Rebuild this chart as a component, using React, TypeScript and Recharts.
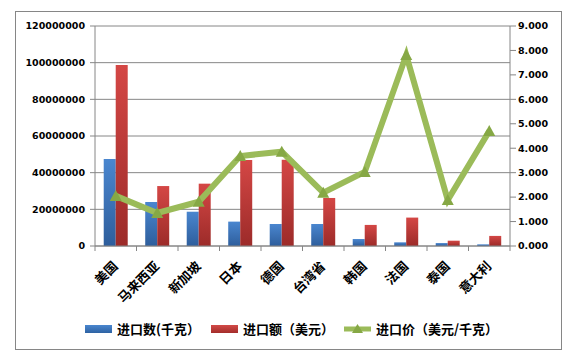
import React from 'react';
import { ComposedChart, Bar, Line, XAxis, YAxis, CartesianGrid, Legend } from 'recharts';

const categories = ['美国', '马来西亚', '新加坡', '日本', '德国', '台湾省', '韩国', '法国', '泰国', '意大利'];
const importQty = [47500000, 24000000, 18700000, 13300000, 12000000, 12000000, 3800000, 2000000, 1600000, 900000];
const importValue = [98700000, 32700000, 34000000, 46900000, 47000000, 26200000, 11500000, 15500000, 2900000, 5500000];
const importPrice = [2.05, 1.35, 1.81, 3.68, 3.86, 2.18, 3.03, 7.81, 1.88, 4.7];
const leftTicks = [0, 20000000, 40000000, 60000000, 80000000, 100000000, 120000000];
const rightTicks = [0, 1, 2, 3, 4, 5, 6, 7, 8, 9];
const seriesNames = ['进口数(千克）', '进口额（美元）', '进口价（美元/千克）'];

const data = categories.map((c, i) => ({
  name: c,
  qty: importQty[i],
  value: importValue[i],
  price: importPrice[i],
}));

const GRAY = '#868686';
const W = 568;
const H = 357;
const PLOT_LEFT = 95;
const PLOT_RIGHT = 510;
const HALF_BAND = (PLOT_RIGHT - PLOT_LEFT) / categories.length / 2;

const axisFont = { fontFamily: 'DejaVu Sans', fontWeight: 'bold', fontSize: 9.5, fill: '#000' };

const XTick = (props: any) => {
  const { x, y, payload, index } = props;
  const last = index === categories.length - 1;
  return (
    <g>
      <line x1={x - HALF_BAND} y1={y} x2={x - HALF_BAND} y2={y + 5} stroke={GRAY} />
      {last && <line x1={x + HALF_BAND} y1={y} x2={x + HALF_BAND} y2={y + 5} stroke={GRAY} />}
      <g transform={`translate(${x + 3}, ${y + 21})`}>
        <text
          x={0}
          y={0}
          transform="rotate(-45)"
          textAnchor="end"
          style={{ fontFamily: '"Noto Sans CJK SC"', fontWeight: 'bold', fontSize: 13, fill: '#000' }}
        >
          {payload.value}
        </text>
      </g>
    </g>
  );
};

const Triangle = (props: any) => {
  const { cx, cy } = props;
  if (cx == null || cy == null) return null;
  return <path d={`M${cx},${cy - 6} L${cx + 6},${cy + 5} L${cx - 6},${cy + 5} Z`} fill="#86a845" />;
};

const LegendContent = () => {
  const textStyle: React.CSSProperties = {
    fontFamily: '"Noto Sans CJK SC"',
    fontWeight: 'bold',
    fontSize: 13,
    color: '#000',
    whiteSpace: 'nowrap',
  };
  const item = (icon: React.ReactNode, label: string, gap: number) => (
    <div style={{ display: 'flex', alignItems: 'center', marginRight: gap }}>
      {icon}
      <span style={{ ...textStyle, marginLeft: 5 }}>{label}</span>
    </div>
  );
  return (
    <div style={{ display: 'flex', alignItems: 'center' }}>
      {item(<div style={{ width: 27, height: 8, background: 'linear-gradient(#4a86cf,#2e62a3)' }} />, seriesNames[0], 11)}
      {item(<div style={{ width: 27, height: 8, background: 'linear-gradient(#d24a47,#a32d2b)' }} />, seriesNames[1], 10)}
      {item(
        <svg width={27} height={12}>
          <line x1={0} y1={6} x2={27} y2={6} stroke="#9bbb59" strokeWidth={5} />
          <path d="M13.5,1 L19,10 L8,10 Z" fill="#86a845" />
        </svg>,
        seriesNames[2],
        0
      )}
    </div>
  );
};

export default function App() {
  return (
    <div style={{ position: 'absolute', left: 0, top: 0, width: W, height: H, background: '#fff' }}>
      <div
        style={{
          position: 'absolute',
          left: 15,
          top: 11,
          width: 545,
          height: 337,
          border: `1px solid ${GRAY}`,
        }}
      />
      <ComposedChart
        width={W}
        height={H}
        data={data}
        margin={{ top: 26, right: 0, bottom: 41, left: 0 }}
        barCategoryGap="21%"
        barGap={0}
        style={{ position: 'absolute', left: 0, top: 0 }}
      >
        <defs>
          <linearGradient id="gBlue" x1="0" y1="0" x2="0" y2="1">
            <stop offset="0%" stopColor="#4a86cf" />
            <stop offset="100%" stopColor="#2e5e9c" />
          </linearGradient>
          <linearGradient id="gRed" x1="0" y1="0" x2="0" y2="1">
            <stop offset="0%" stopColor="#d44745" />
            <stop offset="100%" stopColor="#9c2b29" />
          </linearGradient>
        </defs>
        <CartesianGrid vertical={false} stroke={GRAY} strokeWidth={1} yAxisId="left" />
        <XAxis
          dataKey="name"
          height={70}
          stroke={GRAY}
          tickLine={false}
          tickSize={0}
          tickMargin={0}
          tick={<XTick />}
          interval={0}
        />
        <YAxis
          yAxisId="left"
          orientation="left"
          width={95}
          domain={[0, 120000000]}
          ticks={leftTicks}
          interval={0}
          stroke={GRAY}
          tickSize={5}
          tickMargin={5}
          tick={axisFont}
        />
        <YAxis
          yAxisId="right"
          orientation="right"
          width={58}
          domain={[0, 9]}
          ticks={rightTicks}
          interval={0}
          stroke={GRAY}
          tickSize={6}
          tickMargin={2}
          tick={axisFont}
          tickFormatter={(v: number) => v.toFixed(3)}
        />
        <Bar yAxisId="left" dataKey="qty" name={seriesNames[0]} fill="url(#gBlue)" isAnimationActive={false} />
        <Bar yAxisId="left" dataKey="value" name={seriesNames[1]} fill="url(#gRed)" isAnimationActive={false} />
        <Line
          yAxisId="right"
          dataKey="price"
          name={seriesNames[2]}
          stroke="#9bbb59"
          strokeWidth={6}
          strokeLinejoin="miter"
          dot={<Triangle />}
          activeDot={false}
          isAnimationActive={false}
        />
        <Legend
          layout="horizontal"
          verticalAlign="middle"
          content={<LegendContent />}
          wrapperStyle={{ position: 'absolute', top: 319, left: 85, width: 460 }}
        />
      </ComposedChart>
    </div>
  );
}
